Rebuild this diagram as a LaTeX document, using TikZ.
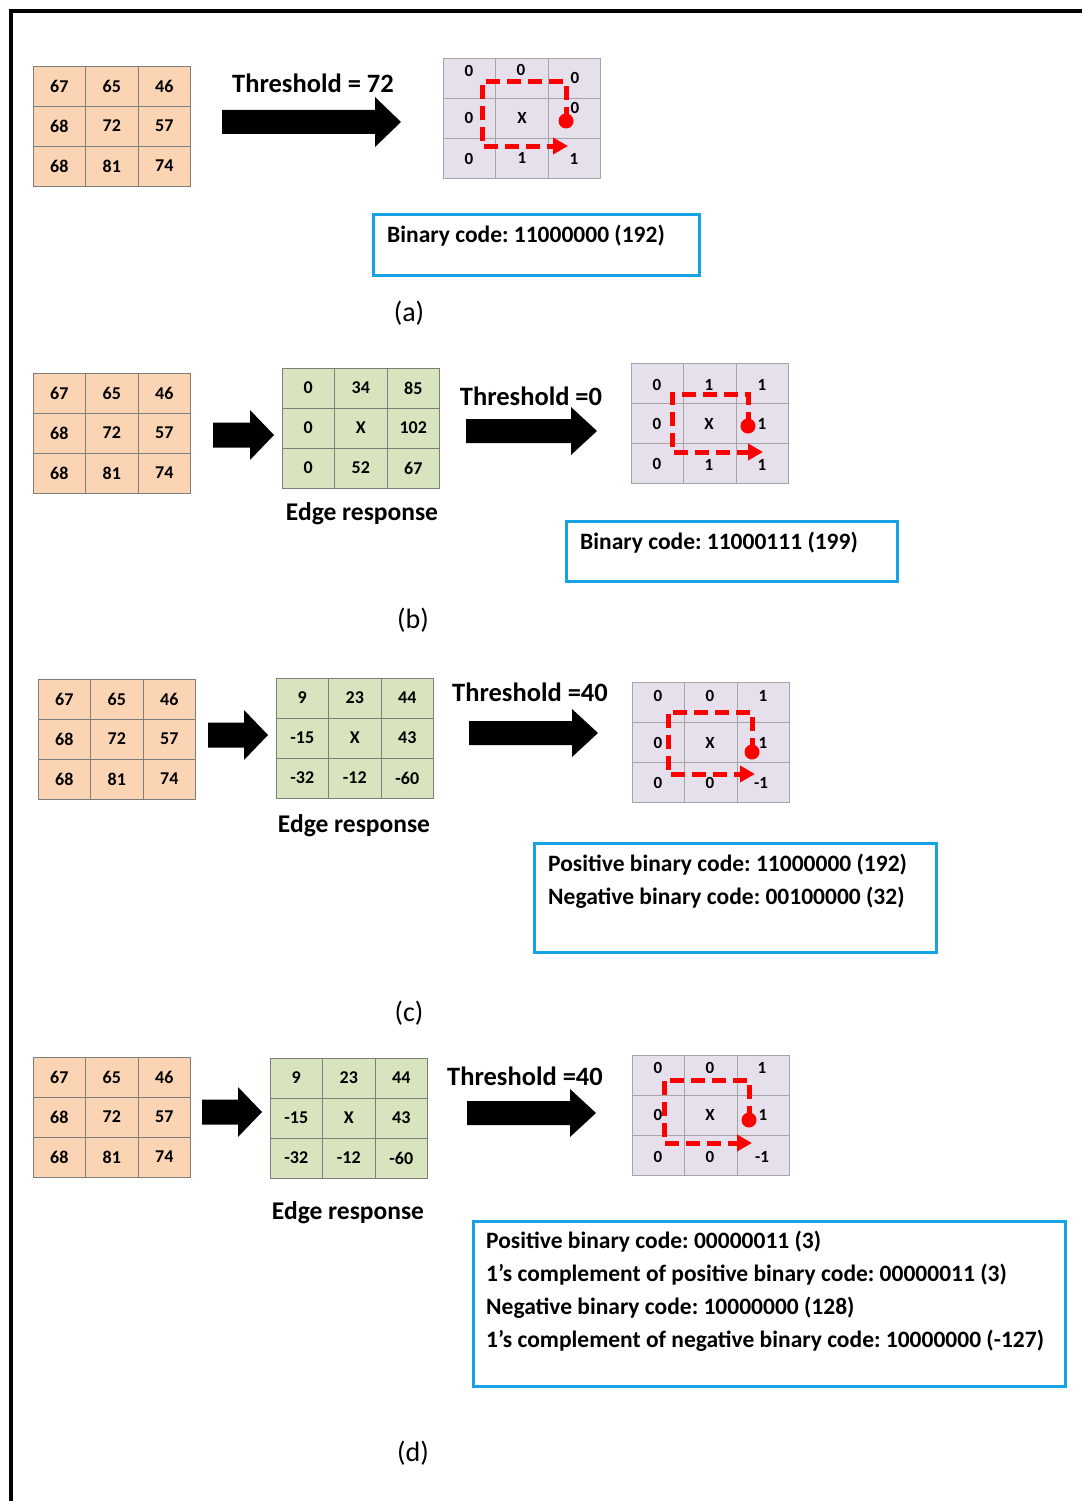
\documentclass[tikz,border=0pt]{standalone}
\usepackage{fontspec}
\setmainfont{Carlito}
\usetikzlibrary{arrows.meta}
\frenchspacing
\definecolor{orangec}{RGB}{251,212,180}
\definecolor{greenc}{RGB}{215,228,189}
\definecolor{lavc}{RGB}{229,224,236}
\definecolor{bluec}{RGB}{22,163,230}
\definecolor{gridline}{RGB}{125,125,125}
\definecolor{gridlight}{RGB}{165,165,165}
\tikzset{
 cellbox/.style={draw=gridline, line width=0.9pt, minimum width=52.5pt, minimum height=40pt, inner sep=0pt, font=\fontsize{18}{18}\selectfont\bfseries},
 bincell/.style={draw=gridlight, fill=lavc, line width=0.9pt, minimum width=52.5pt, minimum height=40pt, inner sep=0pt},
 binlbl/.style={font=\fontsize{17}{17}\selectfont\bfseries, inner sep=0pt},
 thr/.style={font=\fontsize{26.5}{26.5}\selectfont\bfseries, inner sep=0pt},
 edgelbl/.style={font=\fontsize{25.5}{25.5}\selectfont\bfseries, inner sep=0pt},
 caplbl/.style={font=\fontsize{28}{28}\selectfont, inner sep=0pt},
 codebox/.style={draw=bluec, line width=3pt, anchor=north west, inner sep=0pt},
 codetext/.style={anchor=west, font=\fontsize{23.5}{23.5}\selectfont\bfseries, inner sep=0pt},
 redpath/.style={draw=red, line width=5pt, dash pattern=on 14pt off 7pt, -{Triangle[length=15pt,width=16pt]}},
 reddot/.style={circle, fill=red, minimum size=15pt, inner sep=0pt},
}
\newcommand{\gridnine}[5]{%
  \foreach \t [count=\i from 0] in {#5}{%
    \pgfmathtruncatemacro\rr{\i/3}%
    \pgfmathtruncatemacro\cc{\i-3*\rr}%
    \node[cellbox, fill=#4] (#1-\rr-\cc) at ({#2+52.5*\cc+26.25},{#3+40*\rr+20}) {\t};
  }}
\newcommand{\bingrid}[3]{%
  \foreach \i in {0,...,8}{%
    \pgfmathtruncatemacro\rr{\i/3}%
    \pgfmathtruncatemacro\cc{\i-3*\rr}%
    \node[bincell] (#1-\rr-\cc) at ({#2+52.5*\cc+26.25},{#3+40*\rr+20}) {};
  }}
\newcommand{\blockarrow}[6]{%
  \fill[black] (#1,#3-#4) -- (#2-#6,#3-#4) -- (#2-#6,#3-#5) -- (#2,#3) -- (#2-#6,#3+#5) -- (#2-#6,#3+#4) -- (#1,#3+#4) -- cycle;}
\begin{document}
\begin{tikzpicture}[x=1pt,y=-1pt]
\useasboundingbox (0,0) rectangle (1082,1501);
\fill[white] (0,0) rectangle (1082,1501);
\draw[line width=3.5pt] (11,1501) -- (11,11) -- (1082,11);

% ---------- (a)
\gridnine{oa}{33}{66}{orangec}{67,65,46,68,72,57,68,81,74}
\blockarrow{222}{401}{122}{12}{25}{26}
\node[thr] (tha) at (313,83) {Threshold = 72};
\bingrid{ba}{443}{58}
\node[binlbl] (ba00) at (469,71) {0};
\node[binlbl] (ba01) at (521,70) {0};
\node[binlbl] (ba02) at (575,78) {0};
\node[binlbl] (ba10) at (469,118) {0};
\node[binlbl] (ba11) at (522,118) {X};
\node[binlbl] (ba12) at (575,108) {0};
\node[binlbl] (ba20) at (469,159) {0};
\node[binlbl] (ba21) at (522,158) {1};
\node[binlbl] (ba22) at (574,159) {1};
\node[reddot] (da) at (566,121) {};
\coordinate (ea) at (568,146);
\draw[redpath] (da.center) -- (566,82) -- (482,82) -- (482,146) -- (ea);
\node[codebox, minimum width=326pt, minimum height=61pt] (boxa) at (372,213) {};
\node[codetext] (ca1) at (387,236) {Binary code: 11000000 (192)};
\node[caplbl] (capa) at (409,313) {(a)};

% ---------- (b)
\gridnine{ob}{33}{373}{orangec}{67,65,46,68,72,57,68,81,74}
\blockarrow{213}{274}{435}{12.5}{25}{24}
\gridnine{gb}{282}{368}{greenc}{0,34,85,0,X,102,0,52,67}
\node[edgelbl] (erb) at (362,514) {Edge response};
\node[thr] (thb) at (531,396) {Threshold =0};
\blockarrow{466}{597}{431}{12}{24}{26}
\bingrid{bb}{631}{363}
\node[binlbl] (bb00) at (657,385) {0};
\node[binlbl] (bb01) at (709,385) {1};
\node[binlbl] (bb02) at (762,385) {1};
\node[binlbl] (bb10) at (657,424) {0};
\node[binlbl] (bb11) at (709,424) {X};
\node[binlbl] (bb12) at (762,424) {1};
\node[binlbl] (bb20) at (657,464) {0};
\node[binlbl] (bb21) at (709,465) {1};
\node[binlbl] (bb22) at (762,465) {1};
\node[reddot] (db) at (748,426) {};
\coordinate (eb) at (763,452);
\draw[redpath] (db.center) -- (748,394) -- (672,394) -- (672,452) -- (eb);
\node[codebox, minimum width=331pt, minimum height=60pt] (boxb) at (565,520) {};
\node[codetext] (cb1) at (580,543) {Binary code: 11000111 (199)};
\node[caplbl] (capb) at (413,620) {(b)};

% ---------- (c)
\gridnine{oc}{38}{679}{orangec}{67,65,46,68,72,57,68,81,74}
\blockarrow{208}{268}{735}{12.5}{25}{24}
\gridnine{gc}{276}{678}{greenc}{9,23,44,-15,X,43,-32,-12,-60}
\node[edgelbl] (erc) at (354,826) {Edge response};
\node[thr] (thc) at (530,692) {Threshold =40};
\blockarrow{469}{598}{733}{12}{24}{26}
\bingrid{bc}{632}{682}
\node[binlbl] (bc00) at (658,696) {0};
\node[binlbl] (bc01) at (710,696) {0};
\node[binlbl] (bc02) at (763,696) {1};
\node[binlbl] (bc10) at (658,743) {0};
\node[binlbl] (bc11) at (710,743) {X};
\node[binlbl] (bc12) at (763,743) {1};
\node[binlbl] (bc20) at (658,783) {0};
\node[binlbl] (bc21) at (710,783) {0};
\node[binlbl] (bc22) at (761,783) {-1};
\node[reddot] (dc) at (752,752) {};
\coordinate (ec) at (755,774);
\draw[redpath] (dc.center) -- (752,712) -- (668,712) -- (668,774) -- (ec);
\node[codebox, minimum width=402pt, minimum height=109pt] (boxc) at (533,842) {};
\node[codetext] (cc1) at (548,865) {Positive binary code: 11000000 (192)};
\node[codetext] (cc2) at (548,898) {Negative binary code: 00100000 (32)};
\node[caplbl] (capc) at (409,1013) {(c)};

% ---------- (d)
\gridnine{od}{33}{1057}{orangec}{67,65,46,68,72,57,68,81,74}
\blockarrow{202}{262}{1112}{12.5}{25}{24}
\gridnine{gd}{270}{1058}{greenc}{9,23,44,-15,X,43,-32,-12,-60}
\node[edgelbl] (erd) at (348,1213) {Edge response};
\node[thr] (thd) at (525,1076) {Threshold =40};
\blockarrow{467}{596}{1113}{12}{24}{26}
\bingrid{bd}{632}{1055}
\node[binlbl] (bd00) at (658,1068) {0};
\node[binlbl] (bd01) at (710,1068) {0};
\node[binlbl] (bd02) at (762,1068) {1};
\node[binlbl] (bd10) at (658,1115) {0};
\node[binlbl] (bd11) at (710,1115) {X};
\node[binlbl] (bd12) at (763,1115) {1};
\node[binlbl] (bd20) at (658,1157) {0};
\node[binlbl] (bd21) at (710,1157) {0};
\node[binlbl] (bd22) at (762,1157) {-1};
\node[reddot] (dd) at (749,1120) {};
\coordinate (ed) at (752,1143);
\draw[redpath] (dd.center) -- (749,1080) -- (664,1080) -- (664,1143) -- (ed);
\node[codebox, minimum width=592pt, minimum height=165pt] (boxd) at (472,1220) {};
\node[codetext] (cd1) at (486,1242) {Positive binary code: 00000011 (3)};
\node[codetext] (cd2) at (486,1275) {1’s complement of positive binary code: 00000011 (3)};
\node[codetext] (cd3) at (486,1308) {Negative binary code: 10000000 (128)};
\node[codetext] (cd4) at (486,1341) {1’s complement of negative binary code: 10000000 (-127)};
\node[caplbl] (capd) at (413,1453) {(d)};
\end{tikzpicture}
\end{document}
